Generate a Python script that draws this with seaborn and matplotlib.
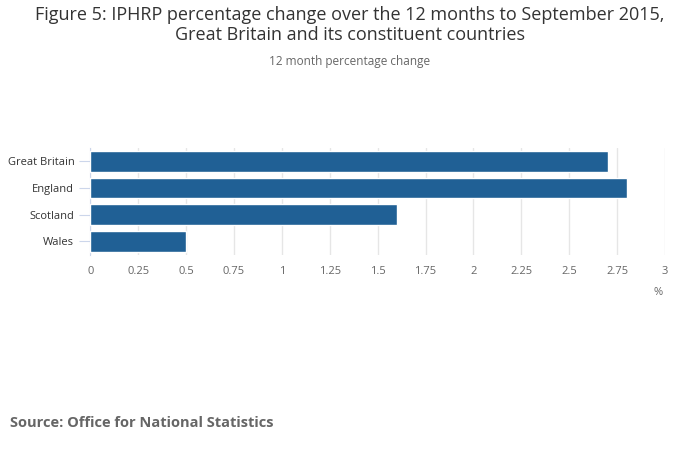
import matplotlib
matplotlib.use('Agg')
import matplotlib.pyplot as plt
import seaborn as sns
import pandas as pd

countries = ['Great Britain', 'England', 'Scotland', 'Wales']
change = [2.7, 2.8, 1.6, 0.5]
xticks = [0, 0.25, 0.5, 0.75, 1, 1.25, 1.5, 1.75, 2, 2.25, 2.5, 2.75, 3]
xlabels = ['0', '0.25', '0.5', '0.75', '1', '1.25', '1.5', '1.75', '2', '2.25', '2.5', '2.75', '3']

sns.set_style('white')
plt.rcParams['font.family'] = ['Open Sans', 'DejaVu Sans']

df = pd.DataFrame({'country': countries, 'change': change})
fig = plt.figure(figsize=(7, 4.51), dpi=100)
ax = fig.add_axes([0.129, 0.435, 0.821, 0.237])
sns.barplot(data=df, x='change', y='country', color='#206095', saturation=1,
            width=0.78, ax=ax, zorder=3)
ax.set_xlim(0, 3)
ax.set_xticks(xticks)
ax.set_xticklabels(xlabels)
ax.grid(axis='x', color='#e6e6e6', linewidth=1, zorder=0)
for s in ['top', 'right', 'bottom']:
    ax.spines[s].set_visible(False)
ax.spines['left'].set_color('#ccd6eb')
ax.tick_params(axis='x', length=0, labelsize=8, colors='#666666', pad=8)
ax.tick_params(axis='y', length=8, color='#ccd6eb', labelsize=8, colors='#333333', left=True)
ax.set_xlabel('')
ax.set_ylabel('')
fig.text(0.94, 0.345, '%', fontsize=8, color='#666666', ha='center')

fig.text(0.5, 0.945, 'Figure 5: IPHRP percentage change over the 12 months to September 2015,\nGreat Britain and its constituent countries',
         ha='center', va='center', fontsize=13, color='#333333', linespacing=1.15)
fig.text(0.5, 0.855, '12 month percentage change', ha='center', fontsize=8.5, color='#666666')
fig.text(0.014, 0.053, 'Source: Office for National Statistics', fontsize=10.5,
         fontweight='bold', color='#666666')
fig.savefig('out.png', dpi=100)
